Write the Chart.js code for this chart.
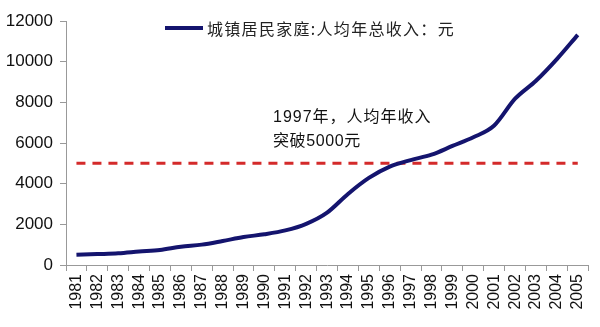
<!DOCTYPE html>
<html><head><meta charset="utf-8">
<script src="https://cdn.jsdelivr.net/npm/chart.js@4/dist/chart.umd.min.js"></script>
<style>html,body{margin:0;padding:0;background:#fff}#wrap{width:600px;height:327px}</style>
</head><body><div id="wrap"><canvas id="c" width="600" height="327"></canvas></div>
<script>
const years = ['1981','1982','1983','1984','1985','1986','1987','1988','1989','1990','1991','1992','1993','1994','1995','1996','1997','1998','1999','2000','2001','2002','2003','2004','2005'];
const income = [500,535,573,660,739,900,1002,1181,1376,1510,1700,2026,2577,3496,4283,4839,5160,5425,5854,6280,6860,8177,9061,10128,11320];
const threshold = years.map(() => 5000);
const yTicks = [0,2000,4000,6000,8000,10000,12000];
const seriesName = '城镇居民家庭:人均年总收入：元';
const noteLines = ['1997年，人均年收入','突破5000元'];

const overlay = {
  id: 'overlay',
  afterDraw(chart) {
    const ctx = chart.ctx;
    ctx.save();
    ctx.strokeStyle = '#14146e';
    ctx.lineWidth = 4;
    ctx.beginPath(); ctx.moveTo(165, 28); ctx.lineTo(203, 28); ctx.stroke();
    ctx.fillStyle = '#222';
    ctx.font = '16px "Noto Sans CJK SC"';
    ctx.textBaseline = 'middle';
    ctx.textAlign = 'left';
    ctx.letterSpacing = '1.3px';
    ctx.fillText(seriesName, 207, 29);
    ctx.font = '16px "Liberation Sans", "Noto Sans CJK SC"';
    ctx.fillStyle = '#111';
    ctx.letterSpacing = '1px';
    ctx.fillText(noteLines[0], 273, 118);
    ctx.letterSpacing = '0.6px';
    ctx.fillText(noteLines[1], 273, 142);
    ctx.restore();
  }
};

new Chart(document.getElementById('c'), {
  type: 'line',
  data: {
    labels: years,
    datasets: [
      { label: seriesName, data: income, borderColor: '#14146e', borderWidth: 4, pointRadius: 0, tension: 0.4, cubicInterpolationMode: 'monotone', fill: false },
      { label: 'th', data: threshold, borderColor: '#d42a2a', borderWidth: 3, borderDash: [9, 7], pointRadius: 0, fill: false }
    ]
  },
  options: {
    responsive: false,
    animation: false,
    devicePixelRatio: 1,
    layout: { padding: { top: 21, right: 2, left: 0, bottom: 0 } },
    plugins: { legend: { display: false }, tooltip: { enabled: false } },
    scales: {
      x: {
        offset: true,
        afterFit(axis) { axis.height = 62; },
        grid: { display: true, offset: true, drawOnChartArea: false, drawTicks: true, tickLength: 6, color: '#999', lineWidth: 1 },
        border: { display: true, color: '#999', width: 1 },
        ticks: { color: '#111', font: { family: 'Liberation Sans', size: 16 }, minRotation: 90, maxRotation: 90, autoSkip: false, padding: 3 }
      },
      y: {
        min: 0, max: 12000,
        afterBuildTicks(axis) { axis.ticks = yTicks.map(v => ({ value: v })); },
        afterFit(axis) { axis.width = 66; },
        grid: { display: true, drawOnChartArea: false, drawTicks: true, tickLength: 6, color: '#999' },
        border: { display: true, color: '#999', width: 1 },
        ticks: { color: '#111', font: { family: 'Liberation Sans', size: 17 }, padding: 7, callback: v => String(v) }
      }
    }
  },
  plugins: [overlay]
});
</script>
</body></html>
